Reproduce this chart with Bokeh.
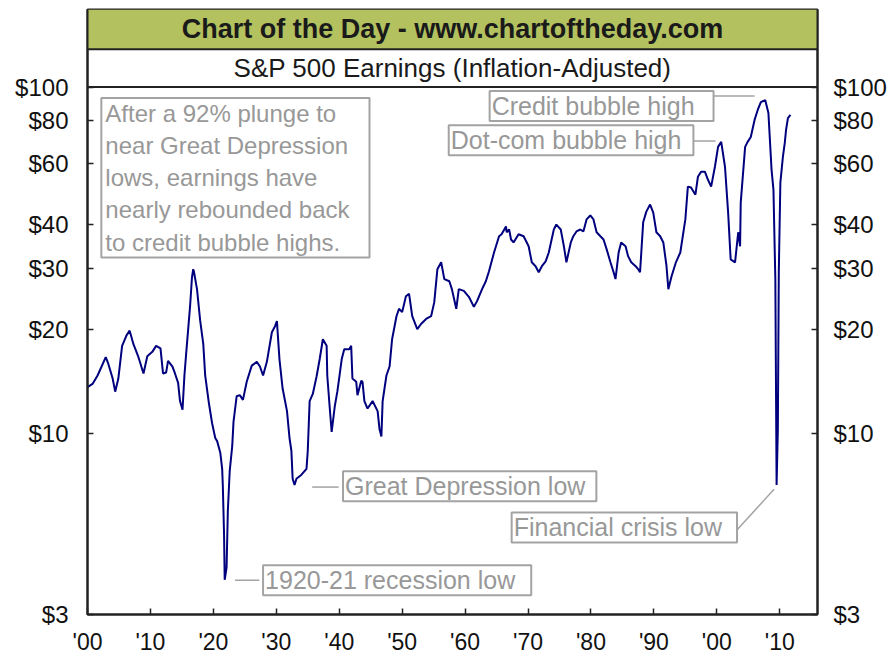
import math
from bokeh.plotting import figure
from bokeh.models import (Range1d, LogAxis, FixedTicker, Label, Span,
                          BoxAnnotation, ColumnDataSource)
from bokeh.embed import file_html
from bokeh.resources import INLINE

# ---------------- data ----------------
years = [1900.0, 1900.8, 1901.6, 1902.1, 1902.9, 1903.3, 1904.0, 1904.4, 1904.9, 1905.5,
         1906.2, 1906.7, 1907.3, 1908.1, 1908.9, 1909.5, 1910.3, 1910.9, 1911.6, 1912.0,
         1912.5, 1912.8, 1913.5, 1913.9, 1914.4, 1914.7, 1915.1, 1915.4, 1915.7, 1916.0,
         1916.3, 1916.6, 1916.8, 1916.9, 1917.4, 1917.9, 1918.4, 1918.7, 1919.3, 1919.8,
         1920.3, 1920.6, 1921.1, 1921.4, 1921.5, 1921.7, 1921.8, 1922.1, 1922.3, 1922.6,
         1923.0, 1923.2, 1923.7, 1924.2, 1924.7, 1925.3, 1926.1, 1926.9, 1927.4, 1927.9,
         1928.5, 1929.3, 1929.8, 1930.1, 1930.5, 1931.0, 1931.7, 1932.1, 1932.4, 1932.6,
         1932.9, 1933.2, 1934.0, 1934.8, 1935.0, 1935.3, 1935.8, 1936.4, 1936.9, 1937.4,
         1938.0, 1938.1, 1938.5, 1938.8, 1939.3, 1939.7, 1940.4, 1940.8, 1941.6, 1941.9,
         1942.1, 1942.7, 1942.9, 1943.5, 1943.7, 1944.0, 1944.5, 1945.3, 1946.1, 1946.4,
         1946.7, 1946.9, 1947.5, 1948.0, 1948.4, 1949.1, 1949.5, 1950.0, 1950.6, 1951.1,
         1951.6, 1952.4, 1953.0, 1953.8, 1954.6, 1955.1, 1955.6, 1956.2, 1956.7, 1957.5,
         1957.9, 1958.6, 1959.0, 1959.8, 1960.6, 1961.4, 1961.9, 1962.7, 1963.3, 1963.8,
         1964.6, 1965.4, 1965.8, 1966.5, 1966.6, 1967.0, 1967.3, 1967.7, 1968.5, 1969.3,
         1969.8, 1970.1, 1970.6, 1971.2, 1971.7, 1972.2, 1972.8, 1973.3, 1974.1, 1974.5,
         1975.2, 1975.7, 1976.1, 1976.8, 1977.2, 1977.7, 1978.3, 1978.8, 1979.3, 1979.9,
         1980.4, 1980.9, 1981.5, 1982.0, 1982.5, 1983.1, 1983.6, 1983.9, 1984.4, 1984.8,
         1985.5, 1985.9, 1986.4, 1987.1, 1987.5, 1987.8, 1988.0, 1988.3, 1988.8, 1989.4,
         1989.9, 1990.4, 1991.0, 1991.5, 1992.0, 1992.3, 1992.8, 1993.5, 1994.2, 1995.0,
         1995.4, 1995.9, 1996.6, 1997.0, 1997.5, 1998.1, 1998.6, 1999.1, 1999.7, 2000.2,
         2000.7, 2001.3, 2001.8, 2002.2, 2002.9, 2003.4, 2003.7, 2003.8, 2004.5, 2004.9,
         2005.4, 2006.0, 2006.5, 2007.0, 2007.7, 2008.2, 2008.7, 2009.0, 2009.3, 2009.5,
         2009.7, 2009.85, 2010.1, 2010.5, 2010.8, 2011.0, 2011.3, 2011.7]

earnings = [13.6, 13.9, 14.7, 15.4, 16.6, 15.9, 14.4, 13.2, 14.4, 17.9,
            19.2, 19.8, 18.1, 16.6, 14.9, 16.7, 17.2, 17.9, 17.6, 14.9,
            15.0, 16.2, 15.6, 14.9, 14.0, 12.4, 11.7, 14.7, 17.2, 20.0,
            23.3, 28.2, 29.8, 29.4, 26.1, 21.2, 18.1, 14.7, 12.2, 10.7,
            9.7, 9.5, 8.8, 7.9, 7.1, 5.1, 3.78, 4.1, 5.97, 7.8,
            9.2, 10.8, 12.8, 12.9, 12.5, 14.1, 15.7, 16.1, 15.6, 14.7,
            16.1, 19.6, 20.4, 21.1, 16.4, 13.5, 11.6, 9.7, 8.9, 7.4,
            7.1, 7.4, 7.6, 7.9, 8.9, 12.4, 13.0, 14.6, 16.4, 18.7,
            17.9, 14.7, 11.8, 10.1, 12.0, 13.2, 16.4, 17.5, 17.5, 17.9,
            14.4, 14.1, 12.9, 14.2, 14.1, 12.4, 11.8, 12.4, 11.6, 10.3,
            9.8, 12.4, 14.7, 15.6, 18.7, 21.8, 22.9, 22.4, 24.9, 25.3,
            21.8, 20.0, 20.7, 21.4, 21.8, 23.9, 29.8, 31.2, 27.9, 27.5,
            26.1, 22.9, 26.1, 25.8, 24.8, 23.2, 24.1, 26.1, 27.5, 29.4,
            33.3, 37.1, 37.6, 39.6, 38.1, 38.8, 36.3, 35.6, 37.6, 37.1,
            35.6, 34.7, 31.2, 30.4, 29.2, 30.4, 31.4, 33.3, 38.8, 40.1,
            38.8, 34.7, 31.2, 35.6, 37.1, 38.3, 38.8, 38.3, 41.5, 42.6,
            41.5, 38.1, 37.1, 36.3, 34.0, 31.2, 29.2, 27.9, 33.3, 35.6,
            34.7, 32.5, 31.2, 30.4, 29.8, 29.2, 33.3, 40.7, 43.7, 45.8,
            43.4, 38.1, 37.1, 35.6, 30.5, 26.1, 28.4, 31.2, 33.3, 41.5,
            51.6, 51.3, 48.9, 55.1, 57.0, 57.0, 54.0, 51.6, 58.9, 67.2,
            69.5, 58.9, 43.4, 31.8, 31.2, 38.1, 34.7, 46.4, 67.2, 69.5,
            71.8, 80.4, 85.9, 90.5, 91.7, 84.2, 57.7, 50.6, 27.9, 7.1,
            10.3, 29.2, 53.0, 62.9, 69.0, 75.2, 81.4, 83.1]

x_ticks = [1900, 1910, 1920, 1930, 1940, 1950, 1960, 1970, 1980, 1990, 2000, 2010]
x_tick_labels = ["'00", "'10", "'20", "'30", "'40", "'50", "'60", "'70", "'80", "'90", "'00", "'10"]
y_ticks = [3, 10, 20, 30, 40, 60, 80, 100]
y_tick_labels = ["$3", "$10", "$20", "$30", "$40", "$60", "$80", "$100"]

title_text = "Chart of the Day - www.chartoftheday.com"
subtitle_text = "S&P 500 Earnings (Inflation-Adjusted)"
note_text = ("After a 92% plunge to\nnear Great Depression\nlows, earnings have\n"
             "nearly rebounded back\nto credit bubble highs.")

# callouts: text, anchor (year, $), padding right, leader (x0, y0, x1, y1)
callout_texts = ["Credit bubble high", "Dot-com bubble high", "Great Depression low",
                 "1920-21 recession low", "Financial crisis low"]
callout_x = [1963.9, 1957.4, 1940.6, 1927.9, 1967.4]
callout_y = [88.2, 70.2, 7.04, 3.77, 5.35]
callout_pad_right = [19, 12, 11, 16, 15]
leader_x0 = [1999.05, 1995.4, 1935.7, 1923.45, 2003.2]
leader_y0 = [94.2, 69.9, 7.0, 3.77, 5.26]
leader_x1 = [2006.0, 1999.8, 1939.9, 1927.3, 2009.1]
leader_y1 = [94.2, 69.9, 7.0, 3.77, 6.9]

# ---------------- layout ----------------
W, H = 889, 657
B_LEFT, B_RIGHT, B_TOP, B_BOTTOM = 87, 70, 9, 40
FRAME_H = H - B_TOP - B_BOTTOM
BAND_H = 78            # height of the two title bands above $100
OLIVE_H = 40
X_START, X_END = 1900, 2016
Y_MIN, Y_AX_TOP = 3, 100
PXD = (FRAME_H - BAND_H) / math.log10(Y_AX_TOP / Y_MIN)
Y_END = Y_AX_TOP * 10 ** (BAND_H / PXD)


def above(px):
    return Y_AX_TOP * 10 ** (px / PXD)


FONT = "Liberation Sans"
OLIVE = "#B3C15F"
NAVY = "#00007F"
GREY_TXT = "#989898"
GREY_BOX = "#a3a3a3"
DARK = "#222222"

p = figure(width=W, height=H, output_backend="svg", toolbar_location=None,
           y_axis_type="log",
           x_range=Range1d(X_START, X_END), y_range=Range1d(Y_MIN, Y_END),
           min_border_left=B_LEFT, min_border_right=B_RIGHT,
           min_border_top=B_TOP, min_border_bottom=B_BOTTOM)
p.xgrid.visible = False
p.ygrid.visible = False
p.background_fill_color = "white"
p.border_fill_color = "white"
p.outline_line_color = DARK
p.outline_line_width = 2

# title bands
p.add_layout(BoxAnnotation(bottom=above(BAND_H - OLIVE_H), fill_color=OLIVE, fill_alpha=1,
                           line_color=None, level="underlay"))
p.add_layout(Span(location=Y_AX_TOP, dimension="width", line_color=DARK, line_width=2))
p.add_layout(Span(location=above(BAND_H - OLIVE_H), dimension="width", line_color=DARK, line_width=2))

xmid = (X_START + X_END) / 2
p.add_layout(Label(x=xmid, y=above(BAND_H - OLIVE_H / 2), text=title_text,
                   text_align="center", text_baseline="middle", text_font=FONT,
                   text_font_style="bold", text_font_size="27px", text_color="#1a1a1a"))
p.add_layout(Label(x=xmid, y=above((BAND_H - OLIVE_H) / 2), text=subtitle_text,
                   text_align="center", text_baseline="middle", text_font=FONT,
                   text_font_size="26px", text_color="#1a1a1a"))

# axes
ax_common = dict(axis_line_color=DARK, axis_line_width=2,
                 major_tick_line_color=DARK, major_tick_line_width=1.5,
                 major_tick_in=6, major_tick_out=0,
                 minor_tick_line_color=None,
                 major_label_text_font=FONT, major_label_text_color="#111111")

yl = p.yaxis[0]
yl.ticker = FixedTicker(ticks=y_ticks)
yl.major_label_overrides = dict(zip(y_ticks, y_tick_labels))
yl.major_label_standoff = 19
yl.major_label_text_font_size = "24px"
for k, v in ax_common.items():
    setattr(yl, k, v)

yr = LogAxis(ticker=FixedTicker(ticks=y_ticks),
             major_label_overrides=dict(zip(y_ticks, y_tick_labels)),
             major_label_standoff=16, major_label_text_font_size="24px", **ax_common)
p.add_layout(yr, "right")

xa = p.xaxis[0]
xa.ticker = FixedTicker(ticks=x_ticks)
xa.major_label_overrides = dict(zip(x_ticks, x_tick_labels))
xa.major_label_standoff = 14
xa.major_label_text_font_size = "23px"
for k, v in ax_common.items():
    setattr(xa, k, v)

# series
src = ColumnDataSource(dict(year=years, earnings=earnings))
p.line(x="year", y="earnings", source=src, line_color=NAVY, line_width=2)

# leader lines
p.segment(x0=leader_x0, y0=leader_y0, x1=leader_x1, y1=leader_y1,
          line_color=GREY_BOX, line_width=1.5)

# callout boxes
for t, x, y, pr in zip(callout_texts, callout_x, callout_y, callout_pad_right):
    p.add_layout(Label(x=x, y=y, text=t, text_align="left", text_baseline="middle",
                       text_font=FONT, text_font_size="25px", text_color=GREY_TXT,
                       background_fill_color="white", border_line_color=GREY_BOX,
                       border_line_width=2,
                       padding=dict(left=2, right=pr, top=1, bottom=1)))

p.add_layout(Label(x=1902.2, y=93.0, text=note_text, text_align="left",
                   text_baseline="top", text_font=FONT, text_font_size="24px",
                   text_line_height=1.19, text_color=GREY_TXT,
                   background_fill_color="white", border_line_color=GREY_BOX,
                   border_line_width=2,
                   padding=dict(left=4, right=20, top=2, bottom=2)))

open("out.html", "w").write(file_html(p, INLINE))
